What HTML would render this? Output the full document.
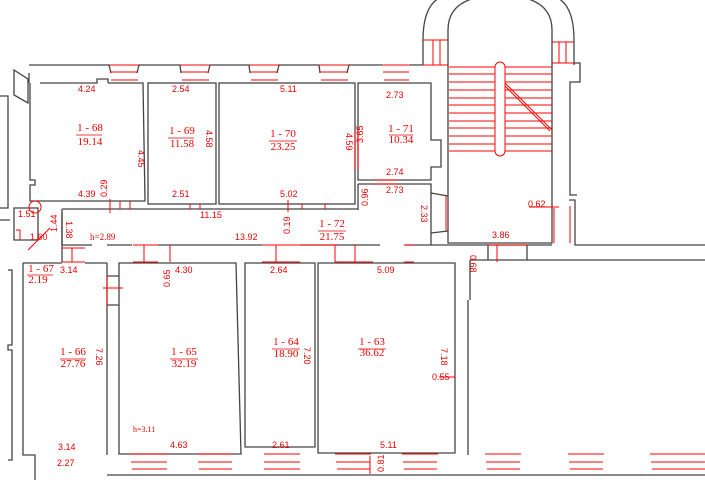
<!DOCTYPE html>
<html><head><meta charset="utf-8"><style>
html,body{margin:0;padding:0;background:#fff;width:705px;height:480px;overflow:hidden}
svg{display:block}
.w{fill:none;stroke:#444;stroke-width:1.3}
.r{fill:none;stroke:#f00;stroke-width:1}
.d{font-family:"Liberation Sans",sans-serif;font-size:9px;fill:#e00}
.n{font-family:"Liberation Serif",serif;font-size:11px;fill:#e00;text-anchor:middle}
.u{stroke:#e00;stroke-width:0.7}
</style></head><body>
<svg width="705" height="480" viewBox="0 0 705 480">
<path class="w" d="M29 65 H109 L111 73 M137 73 L139 65 H180 L181 73 M208 73 L210 65 H249 L250 73 M277 73 L279 65 H319 L320 73 M347 73 L349 65 H382 M410 65 H423"/>
<path class="r" d="M109 65h30M110 72h28M111 80h27 M180 65h30M181 72h28M182 80h27 M249 65h30M250 72h28M251 80h27 M319 65h30M320 72h28M321 80h27 M382 65h28M383 72h26M384 80h25"/>
<path class="w" d="M423 65 V40 Q423 0 447 -5 M448 65 V30 Q448 5 475 -2 M552 65 V30 Q552 5 525 -2 M574 65 V40 Q574 0 550 -5"/>
<path class="r" d="M423 40h25M423 65h25M433 40v25M440 40v25 M552 42h22M552 63h22M559 42v21M566 42v21"/>
<path class="w" d="M448 65 V243 H552 V65 M574 63 H580 V82 H570 V195 H577 M569 200 H575 V245 H705"/>
<g class="r">
<path d="M449 67h103M449 74h103M449 82h103M449 90h103M449 98h103M449 105h103M449 113h103M449 121h103M449 128h103M449 136h103M449 144h103M449 151h103"/>
<rect x="495" y="62" width="10" height="94" rx="5" fill="#fff"/>
<path d="M505 83 L552 130 M505 86 L550 131"/>
<path d="M529 207h30M554 208v35M570 206v37"/>
</g>
<path class="w" d="M29 73 V83 M40 83 H97 V79 H108 V83 M30 83 V180 H35 V185 H30 V201 H145 L143 83 H108"/>
<path class="w" d="M14 70 L28 79 V103 L14 95 Z"/>
<rect class="w" x="148" y="83" width="68" height="121"/>
<rect class="w" x="219" y="83" width="136" height="121"/>
<path class="w" d="M358 83 H431 V140 H441 V167 H431 V180 H358 Z"/>
<path class="w" d="M358 184 H431 V245 M358 184 V210 M431 193 L448 196 M431 233 L448 231"/>
<path class="r" d="M355 130v40M358 130v40 M375 180h22M375 184h22 M446 196v35"/>
<path class="w" d="M62 209 H358 M62 209 V262 M62 245 H92 M107 245 H132 M158 245 H262 M300 245 H380 M405 245 H448 M448 245 H552 M488 245 V260 M527 245 V260 M470 260 V300 M468 300 V455 M470 260 H705"/>
<path class="r" d="M120 201v8M130 201v8M190 204v5M200 204v5M302 204v5M325 204v5 M110 199v14 M288 200v12 M404 245h10M404 262h10M488 245h40M497 245v17"/>
<path class="w" d="M0 96 H8 V208 H0 M0 220 H10 M14 208 H38 V240 H14 Z M62 213 V245"/>
<path class="r" d="M35 213a6 6 0 1 1 0.1 0 M28 250 L50 228 M16 230h4v10"/>
<path class="w" d="M23 263 V455 H35 V480 M107 263 V455 M23 263 H62 M85 263 H107 M107 276 H119 M107 305 H119 M119 263 V454 H241 L236 263 Z M245 263 H315 V447 H245 Z M318 263 H455 V453 H318 Z"/>
<path class="w" d="M8 270 H12 V345 H8 V350 H12 V460 H8"/>
<path class="r" d="M62 248h23M62 262h23M72 248v14M107 276v30M103 288h20 M133 245h25M133 262h25M144 245v17M170 245v17 M262 245h38M262 262h38M276 245v17M300 245h38 M335 245v17M335 262h38M355 245v17 M455 375v2h-16"/>
<path class="w" d="M107 475 H705"/>
<g class="r">
<path d="M130 454h38M131 462h36M132 469h35 M197 454h36M198 462h34M199 469h33 M264 454h36M264 462h36M264 469h36 M335 454h36M336 462h34M337 469h33 M402 454h36M403 462h34M404 469h33 M485 454h36M486 462h34M487 469h33 M568 454h36M569 462h34M570 469h33 M650 454h55M651 462h54M652 469h53"/>
<path d="M370 456v18"/>
</g>
<g class="d">
<text x="78" y="92">4.24</text><text x="172" y="92">2.54</text><text x="280" y="92">5.11</text><text x="386" y="98">2.73</text>
<text x="78" y="197">4.39</text><text x="172" y="197">2.51</text><text x="280" y="197">5.02</text><text x="386" y="175">2.74</text>
<text x="386" y="193">2.73</text><text x="200" y="218">11.15</text><text x="235" y="240">13.92</text>
<text x="90" y="240" font-family="Liberation Serif">h=2.89</text>
<text x="18" y="217">1.51</text><text x="30" y="240">1.60</text>
<text x="528" y="207">0.62</text><text x="492" y="238">3.86</text>
<text x="60" y="273">3.14</text><text x="175" y="273">4.30</text><text x="270" y="273">2.64</text><text x="377" y="273">5.09</text>
<text x="58" y="450">3.14</text><text x="57" y="466">2.27</text><text x="170" y="448">4.63</text><text x="272" y="448">2.61</text><text x="380" y="448">5.11</text>
<text x="432" y="380">0.55</text>
<text x="133" y="432" font-family="Liberation Serif" font-size="8">h=3.11</text>
</g>
<g class="d">
<text transform="translate(138,150) rotate(90)">4.45</text>
<text transform="translate(206,130) rotate(90)">4.58</text>
<text transform="translate(346,133) rotate(90)">4.59</text>
<text transform="translate(363,143) rotate(-90)">3.65</text>
<text transform="translate(107,197) rotate(-90)">0.29</text>
<text transform="translate(290,234) rotate(-90)">0.19</text>
<text transform="translate(368,206) rotate(-90)">0.96</text>
<text transform="translate(421,205) rotate(90)">2.33</text>
<text transform="translate(57,232) rotate(-90)">1.44</text>
<text transform="translate(66,221) rotate(90)">1.38</text>
<text transform="translate(470,255) rotate(90)">0.68</text>
<text transform="translate(170,287) rotate(-90)">0.65</text>
<text transform="translate(96,348) rotate(90)">7.26</text>
<text transform="translate(304,347) rotate(90)">7.20</text>
<text transform="translate(441,348) rotate(90)">7.18</text>
<text transform="translate(384,472) rotate(-90)">0.81</text>
</g>
<g class="u">
<path d="M76 135h26M168 138h26M269 141h28M389 135h24M318 231h28M27 275h26M60 359h26M170 359h28M272 349h28M358 349h28"/>
</g>
<g class="n">
<text x="90" y="131">1 - 68</text><text x="90" y="145">19.14</text>
<text x="182" y="134">1 - 69</text><text x="182" y="147">11.58</text>
<text x="283" y="137">1 - 70</text><text x="283" y="150">23.25</text>
<text x="401" y="132">1 - 71</text><text x="401" y="143">10.34</text>
<text x="332" y="227">1 - 72</text><text x="332" y="240">21.75</text>
<text x="41" y="272">1 - 67</text><text x="38" y="283">2.19</text>
<text x="73" y="355">1 - 66</text><text x="73" y="367">27.76</text>
<text x="184" y="355">1 - 65</text><text x="184" y="367">32.19</text>
<text x="286" y="345">1 - 64</text><text x="286" y="357">18.90</text>
<text x="372" y="345">1 - 63</text><text x="372" y="356">36.62</text>
</g>
</svg>
</body></html>
